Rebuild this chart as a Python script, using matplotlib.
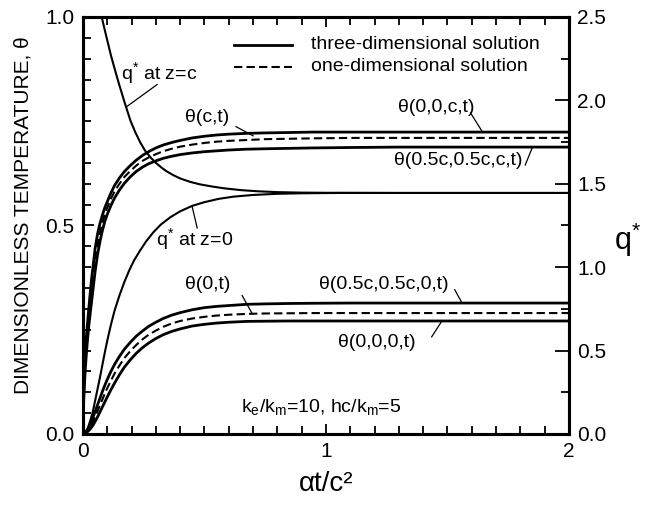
import matplotlib
matplotlib.use("Agg")
import matplotlib.pyplot as plt
from matplotlib.ticker import MultipleLocator, FormatStrFormatter

plt.rcParams['font.family'] = ['Liberation Sans Narrow', 'Liberation Sans', 'DejaVu Sans']
plt.rcParams['mathtext.fontset'] = 'custom'
plt.rcParams['mathtext.rm'] = 'Liberation Sans'
plt.rcParams['mathtext.it'] = 'Liberation Sans'
plt.rcParams['lines.solid_joinstyle'] = 'round'
plt.rcParams['lines.dash_joinstyle'] = 'round'

# Dimensionless time for the heated-face (z = c) temperatures
t_upper = [0, 0.003, 0.006, 0.01, 0.015, 0.02, 0.025, 0.03, 0.035, 0.04, 0.045, 0.05,
           0.06, 0.07, 0.08, 0.09, 0.1, 0.115, 0.13, 0.15, 0.17, 0.195, 0.22, 0.245,
           0.27, 0.3, 0.33, 0.365, 0.4, 0.45, 0.5, 0.55, 0.6, 0.675, 0.75, 0.85, 0.95,
           1.1, 1.3, 1.6, 2.0]
theta_00c_3d = [0, 0.10, 0.15, 0.195, 0.24, 0.275, 0.308, 0.34, 0.37, 0.395, 0.42, 0.445,
                0.48, 0.505, 0.525, 0.543, 0.557, 0.578, 0.596, 0.614, 0.629, 0.644, 0.657,
                0.668, 0.677, 0.686, 0.693, 0.699, 0.704, 0.710, 0.714, 0.717, 0.719,
                0.721, 0.722, 0.723, 0.724, 0.724, 0.724, 0.724, 0.724]
theta_c_1d = [0, 0.09, 0.135, 0.178, 0.22, 0.255, 0.285, 0.315, 0.342, 0.367, 0.392, 0.417,
              0.455, 0.484, 0.507, 0.527, 0.543, 0.564, 0.582, 0.600, 0.616, 0.631, 0.644,
              0.655, 0.663, 0.671, 0.678, 0.684, 0.689, 0.694, 0.698, 0.701, 0.703,
              0.705, 0.707, 0.708, 0.709, 0.710, 0.710, 0.710, 0.710]
theta_hhc_3d = [0, 0.08, 0.12, 0.16, 0.20, 0.235, 0.265, 0.29, 0.315, 0.34, 0.365, 0.39,
                0.43, 0.462, 0.488, 0.51, 0.527, 0.548, 0.566, 0.585, 0.601, 0.617, 0.630,
                0.640, 0.648, 0.655, 0.661, 0.666, 0.670, 0.674, 0.677, 0.679, 0.681,
                0.683, 0.684, 0.685, 0.686, 0.687, 0.688, 0.688, 0.688]

# Dimensionless time for the back-face (z = 0) temperatures
t_lower = [0, 0.01, 0.02, 0.03, 0.04, 0.05, 0.06, 0.07, 0.08, 0.09, 0.1, 0.115, 0.13,
           0.15, 0.17, 0.195, 0.22, 0.245, 0.27, 0.3, 0.33, 0.365, 0.4, 0.45, 0.5, 0.55,
           0.6, 0.675, 0.75, 0.85, 0.95, 1.1, 1.3, 1.6, 2.0]
theta_hh0_3d = [0, 0.004, 0.012, 0.024, 0.038, 0.054, 0.070, 0.086, 0.102, 0.117, 0.131,
                0.150, 0.167, 0.186, 0.203, 0.220, 0.235, 0.247, 0.258, 0.268, 0.277,
                0.285, 0.291, 0.298, 0.303, 0.306, 0.308, 0.311, 0.312, 0.313, 0.3135,
                0.314, 0.314, 0.314, 0.314]
theta_0_1d = [0, 0.003, 0.009, 0.018, 0.029, 0.042, 0.055, 0.069, 0.083, 0.097, 0.110,
              0.128, 0.145, 0.164, 0.182, 0.199, 0.214, 0.227, 0.238, 0.248, 0.257,
              0.265, 0.271, 0.277, 0.281, 0.284, 0.286, 0.288, 0.289, 0.2895, 0.290,
              0.290, 0.290, 0.290, 0.290]
theta_000_3d = [0, 0.002, 0.006, 0.012, 0.020, 0.030, 0.041, 0.053, 0.065, 0.077, 0.089,
                0.106, 0.122, 0.142, 0.160, 0.178, 0.194, 0.207, 0.218, 0.229, 0.238,
                0.246, 0.252, 0.259, 0.263, 0.266, 0.268, 0.270, 0.2705, 0.271, 0.271,
                0.271, 0.271, 0.271, 0.271]

# Dimensionless heat flux q*
t_qc = [0.06, 0.07, 0.077, 0.09, 0.1, 0.115, 0.134, 0.15, 0.173, 0.195, 0.215, 0.235,
        0.255, 0.28, 0.3, 0.325, 0.344, 0.37, 0.4, 0.44, 0.48, 0.53, 0.58, 0.65, 0.72,
        0.8, 0.9, 1.0, 1.3, 2.0]
q_zc = [2.63, 2.56, 2.5, 2.42, 2.36, 2.27, 2.17, 2.09, 1.98, 1.88, 1.81, 1.75, 1.70,
        1.655, 1.625, 1.595, 1.575, 1.553, 1.532, 1.512, 1.497, 1.484, 1.473, 1.462,
        1.455, 1.45, 1.447, 1.446, 1.445, 1.445]
t_q0 = [0, 0.01, 0.02, 0.03, 0.04, 0.05, 0.06, 0.07, 0.08, 0.09, 0.1, 0.115, 0.13, 0.15,
        0.17, 0.19, 0.21, 0.235, 0.26, 0.29, 0.32, 0.36, 0.4, 0.45, 0.5, 0.56, 0.62, 0.7,
        0.8, 0.9, 1.05, 1.3, 2.0]
q_z0 = [0, 0.008, 0.035, 0.08, 0.13, 0.2, 0.27, 0.34, 0.415, 0.49, 0.56, 0.655, 0.74,
        0.83, 0.91, 0.98, 1.04, 1.10, 1.155, 1.21, 1.255, 1.30, 1.335, 1.368, 1.39, 1.41,
        1.423, 1.433, 1.44, 1.443, 1.445, 1.445, 1.445]

fig = plt.figure(figsize=(6.57, 5.07), dpi=100)
ax = fig.add_axes([0.1263, 0.144, 0.7397, 0.8225])
ax2 = ax.twinx()

lw_s, lw_d = 2.0, 1.5
dash = (0, (4, 2))
ax.plot(t_upper, theta_00c_3d, color='black', lw=lw_s)
ax.plot(t_upper, theta_c_1d, color='black', lw=lw_d, ls=dash)
ax.plot(t_upper, theta_hhc_3d, color='black', lw=lw_s)
ax.plot(t_lower, theta_hh0_3d, color='black', lw=lw_s)
ax.plot(t_lower, theta_0_1d, color='black', lw=lw_d, ls=dash)
ax.plot(t_lower, theta_000_3d, color='black', lw=lw_s)

ax2.plot(t_qc, q_zc, color='black', lw=1.5)
ax2.plot(t_q0, q_z0, color='black', lw=1.5)

ax.set_xlim(0, 2)
ax.set_ylim(0, 1.0)
ax2.set_ylim(0, 2.5)

ax.xaxis.set_major_locator(MultipleLocator(1))
ax.xaxis.set_minor_locator(MultipleLocator(0.1))
ax.yaxis.set_major_locator(MultipleLocator(0.5))
ax.yaxis.set_minor_locator(MultipleLocator(0.05))
ax2.yaxis.set_major_locator(MultipleLocator(0.5))
ax2.yaxis.set_minor_locator(MultipleLocator(0.25))

ax.tick_params(axis='x', which='both', direction='in', top=True, width=1.3)
ax.tick_params(axis='x', which='major', length=7, labelsize=15, pad=6)
ax.tick_params(axis='x', which='minor', length=6)
ax.tick_params(axis='y', which='both', direction='in', right=False, width=1.3)
ax.tick_params(axis='y', which='major', length=8, labelsize=15, pad=6)
ax.tick_params(axis='y', which='minor', length=6)
ax2.tick_params(axis='y', which='both', direction='in', width=1.3)
ax2.tick_params(axis='y', which='major', length=10, labelsize=15, pad=6)
ax2.tick_params(axis='y', which='minor', length=6)

ax.yaxis.set_major_formatter(FormatStrFormatter('%.1f'))
ax2.yaxis.set_major_formatter(FormatStrFormatter('%.1f'))

for a in (ax, ax2):
    for s in a.spines.values():
        s.set_linewidth(2.2)

ax.set_xlabel('αt/c²', fontsize=20, labelpad=7)
ax.set_ylabel('DIMENSIONLESS TEMPERATURE, θ', fontsize=15)
ax.yaxis.set_label_coords(-0.103, 0.525)
ax2.set_ylabel('q$^{*}$', fontsize=22, rotation=0, va='center', ha='center')
ax2.yaxis.set_label_coords(1.121, 0.465)

# Legend drawn by hand at the top of the panel
ax.plot([0.62, 0.86], [0.934, 0.934], color='black', lw=lw_s)
ax.plot([0.62, 0.86], [0.881, 0.881], color='black', lw=lw_d, ls=dash)
ax.text(0.94, 0.934, 'three-dimensional solution', fontsize=14, va='center')
ax.text(0.94, 0.881, 'one-dimensional solution', fontsize=14, va='center')

fs = 14
ax.text(0.155, 0.865, 'q$^{*}$ at z=c', fontsize=fs, va='center')
ax.plot([0.305, 0.18], [0.838, 0.785], color='black', lw=0.9)
ax.text(0.42, 0.758, 'θ(c,t)', fontsize=fs, va='center')
ax.plot([0.63, 0.70], [0.737, 0.715], color='black', lw=0.9)
ax.text(1.295, 0.782, 'θ(0,0,c,t)', fontsize=fs, va='center')
ax.plot([1.595, 1.64], [0.77, 0.728], color='black', lw=0.9)
ax.text(1.28, 0.657, 'θ(0.5c,0.5c,c,t)', fontsize=fs, va='center')
ax.plot([1.82, 1.85], [0.645, 0.688], color='black', lw=0.9)
ax.text(0.30, 0.468, 'q$^{*}$ at z=0', fontsize=fs, va='center')
ax.plot([0.47, 0.449], [0.494, 0.546], color='black', lw=0.9)
ax.text(0.42, 0.358, 'θ(0,t)', fontsize=fs, va='center')
ax.plot([0.655, 0.695], [0.332, 0.29], color='black', lw=0.9)
ax.text(0.97, 0.358, 'θ(0.5c,0.5c,0,t)', fontsize=fs, va='center')
ax.plot([1.53, 1.56], [0.346, 0.314], color='black', lw=0.9)
ax.text(1.05, 0.219, 'θ(0,0,0,t)', fontsize=fs, va='center')
ax.plot([1.435, 1.475], [0.233, 0.269], color='black', lw=0.9)
ax.text(0.65, 0.065, 'k$_\\mathregular{e}$/k$_\\mathregular{m}$=10, hc/k$_\\mathregular{m}$=5',
        fontsize=fs, va='center')

fig.savefig('out.png', dpi=100)
